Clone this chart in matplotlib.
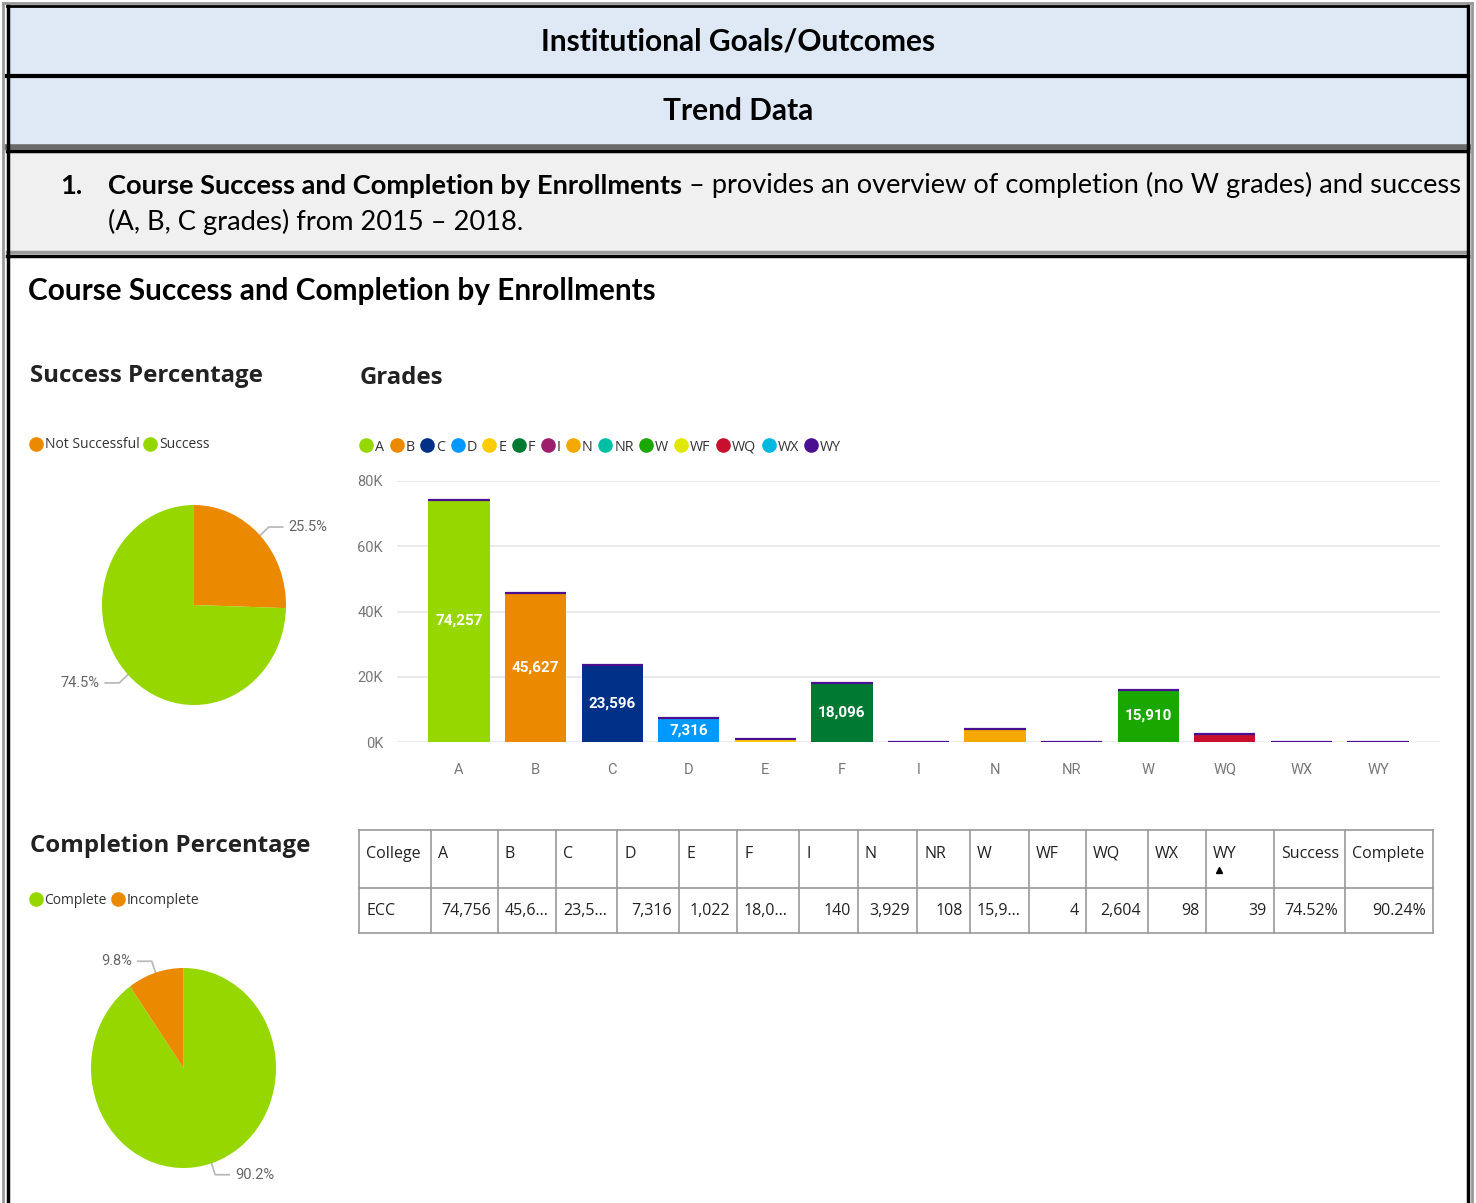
import matplotlib; matplotlib.use("Agg")
import matplotlib.pyplot as plt
from matplotlib.lines import Line2D
from matplotlib.patches import Rectangle
import numpy as np

# ---- data ----
GRADES = ["A", "B", "C", "D", "E", "F", "I", "N", "NR", "W", "WQ", "WX", "WY"]
COUNTS = [74257, 45627, 23596, 7316, 1022, 18096, 140, 3929, 108, 15910, 2604, 98, 39]
LEGEND_GRADES = ["A", "B", "C", "D", "E", "F", "I", "N", "NR", "W", "WF", "WQ", "WX", "WY"]
GRADE_COLORS = {"A": "#97d700", "B": "#eb8900", "C": "#003087", "D": "#0099ff",
                "E": "#ffcc00", "F": "#007a33", "I": "#9c1e6c", "N": "#f5a800",
                "NR": "#00bfa5", "W": "#1aa800", "WF": "#e1e800", "WQ": "#c8102e",
                "WX": "#00b8e0", "WY": "#4b1092"}
Y_TICKS = [0, 20000, 40000, 60000, 80000]

SUCCESS_LABELS = ["Not Successful", "Success"]
SUCCESS_PCT = [25.5, 74.5]
SUCCESS_COLORS = ["#eb8900", "#97d700"]
COMPLETION_LABELS = ["Complete", "Incomplete"]
COMPLETION_PCT = [90.2, 9.8]
COMPLETION_COLORS = ["#97d700", "#eb8900"]

TABLE_HEADER = ["College", "A", "B", "C", "D", "E", "F", "I", "N", "NR", "W",
                "WF", "WQ", "WX", "WY", "Success", "Complete"]
TABLE_ROW = ["ECC", "74,756", "45,6...", "23,5...", "7,316", "1,022", "18,0...", "140",
             "3,929", "108", "15,9...", "4", "2,604", "98", "39", "74.52%", "90.24%"]

W, H = 1476, 1203
TITLE_FONT = "Lato"
UI_FONT = "Open Sans"
NUM_FONT = "Roboto"
LABEL_GRAY = "#666666"

fig = plt.figure(figsize=(W / 100, H / 100), dpi=100)
bg = fig.add_axes([0, 0, 1, 1])
bg.set_xlim(0, W); bg.set_ylim(H, 0); bg.axis("off")


def px_axes(x0, y0, x1, y1):
    return fig.add_axes([x0 / W, 1 - y1 / H, (x1 - x0) / W, (y1 - y0) / H])


# ---- header boxes ----
bg.add_patch(Rectangle((7, 6), 1461, 69, fc="#dee9f5", ec="none"))
bg.add_patch(Rectangle((7, 77), 1461, 68, fc="#dee9f5", ec="none"))
bg.add_patch(Rectangle((7, 152), 1461, 99, fc="#f0f0f0", ec="none"))
bg.plot([3, 1472], [3, 3], color="#999999", lw=2)
bg.plot([7, 1468], [6, 6], color="black", lw=2)
bg.plot([7, 1468], [75.5, 75.5], color="black", lw=3)
bg.plot([7, 1468], [146.5, 146.5], color="#6a6a6a", lw=4)
bg.plot([7, 1468], [150.5, 150.5], color="black", lw=2.5)
bg.plot([7, 1468], [252, 252], color="#9a9a9a", lw=2.5)
bg.plot([7, 1468], [255.5, 255.5], color="black", lw=2.5)
bg.plot([3, 3], [3, H], color="#999999", lw=2)
bg.plot([8, 8], [6, H], color="black", lw=2.5)
bg.plot([1467.5, 1467.5], [6, H], color="black", lw=2.5)
bg.plot([1472, 1472], [3, H], color="#999999", lw=2)

bg.text(738, 42, "Institutional Goals/Outcomes", ha="center", va="center",
        fontsize=21.5, fontweight="bold", family=TITLE_FONT)
bg.text(738, 111, "Trend Data", ha="center", va="center",
        fontsize=21.5, fontweight="bold", family=TITLE_FONT)
bg.text(60, 194, "1.", ha="left", va="baseline", fontsize=19.6, fontweight="bold",
        family=TITLE_FONT)
t_bold = bg.text(108, 194, "Course Success and Completion by Enrollments", ha="left",
                 va="baseline", fontsize=19.6, fontweight="bold", family=TITLE_FONT)
bg.annotate(" \u2013 provides an overview of completion (no W grades) and success",
            xy=(1, 0), xycoords=t_bold, ha="left", va="bottom", fontsize=19.6,
            family=TITLE_FONT)
bg.text(108, 230, "(A, B, C grades) from 2015 \u2013 2018.", ha="left", va="baseline",
        fontsize=19.6, family=TITLE_FONT)
bg.text(28, 291, "Course Success and Completion by Enrollments", ha="left", va="center",
        fontsize=21.4, fontweight="bold", family=TITLE_FONT)

# section titles
bg.text(30, 376, "Success Percentage", ha="left", va="center", fontsize=17.3,
        fontweight="bold", family=UI_FONT, color="#222222")
bg.text(360, 378, "Grades", ha="left", va="center", fontsize=17.3,
        fontweight="bold", family=UI_FONT, color="#222222")
bg.text(30, 846, "Completion Percentage", ha="left", va="center", fontsize=17.3,
        fontweight="bold", family=UI_FONT, color="#222222")


# ---- pies ----
def draw_pie(cx, cy, rx, ry, pcts, colors):
    ax = px_axes(cx - rx, cy - ry, cx + rx, cy + ry)
    wedges, _ = ax.pie(pcts, colors=colors, startangle=90, counterclock=False,
                       wedgeprops=dict(linewidth=0))
    ax.set_aspect("auto"); ax.set_xlim(-1, 1); ax.set_ylim(-1, 1)
    for w, p in zip(wedges, pcts):
        th = np.deg2rad((w.theta1 + w.theta2) / 2)
        c, s = np.cos(th), np.sin(th)
        ex, ey = cx + rx * c, cy - ry * s
        bx, by = cx + (rx + 12) * c, cy - (ry + 12) * s
        sx = 1 if c >= 0 else -1
        hx = bx + 14 * sx
        bg.plot([ex, bx, hx], [ey, by, by], color="#bbbbbb", lw=1.3)
        bg.text(hx + 6 * sx, by, f"{p}%", ha="left" if sx > 0 else "right", va="center",
                fontsize=10.5, color=LABEL_GRAY, family=NUM_FONT)


draw_pie(194, 605, 92, 100, SUCCESS_PCT, SUCCESS_COLORS)
draw_pie(183.5, 1068, 92.5, 100, COMPLETION_PCT, COMPLETION_COLORS)


def dot_legend(labels, colors, x, y, fs=10.5, spacing=0.5):
    handles = [Line2D([], [], marker="o", ls="", ms=9.5, color=c, label=l)
               for l, c in zip(labels, colors)]
    fig.legend(handles=handles, loc="center left", bbox_to_anchor=(x / W, 1 - y / H),
               ncol=len(handles), frameon=False, handlelength=1.0, handletextpad=0.12,
               columnspacing=spacing, borderpad=0, borderaxespad=0,
               prop=dict(family=UI_FONT, size=fs), labelcolor="#333333")


dot_legend(SUCCESS_LABELS, SUCCESS_COLORS, 29, 445, fs=10, spacing=0.3)
dot_legend(COMPLETION_LABELS, COMPLETION_COLORS, 29, 900, fs=10, spacing=0.3)
dot_legend(LEGEND_GRADES, [GRADE_COLORS[g] for g in LEGEND_GRADES], 359, 447,
           fs=10.3, spacing=0.38)

# ---- grades bar chart ----
ax = px_axes(397, 481, 1440, 742)
x = np.arange(len(GRADES))
bars = ax.bar(x, COUNTS, width=0.8, color=[GRADE_COLORS[g] for g in GRADES], zorder=2)
ax.hlines(COUNTS, x - 0.4, x + 0.4, color=GRADE_COLORS["WY"], lw=1.6, zorder=3)
ax.bar_label(bars, labels=[f"{v:,}" if v > 7000 else "" for v in COUNTS],
             label_type="center", color="white", fontweight="bold", fontsize=11,
             family=NUM_FONT)
ax.set_xlim(-0.81, len(GRADES) - 1 + 0.81)
ax.set_ylim(0, 80000)
ax.set_yticks(Y_TICKS, [f"{v // 1000}K" for v in Y_TICKS])
ax.set_xticks(x, GRADES)
ax.grid(axis="y", color="#e6e6e6", lw=1.2, zorder=0)
ax.tick_params(length=0, labelsize=10.5, labelcolor="#777777")
ax.tick_params(axis="x", pad=15)
ax.tick_params(axis="y", pad=10)
for lab in ax.get_xticklabels() + ax.get_yticklabels():
    lab.set_family(NUM_FONT)
for sp in ax.spines.values():
    sp.set_visible(False)

# ---- table ----
COL_EDGES = [359, 431, 498, 556, 617, 679, 737, 799, 858, 917, 970, 1029, 1086,
             1148, 1206, 1274, 1345, 1433]
T_TOP, T_MID, T_BOT = 830, 888, 933
for xe in COL_EDGES:
    bg.plot([xe, xe], [T_TOP, T_BOT], color="#9a9a9a", lw=1.2)
for ye in (T_TOP, T_MID, T_BOT):
    bg.plot([COL_EDGES[0], COL_EDGES[-1]], [ye, ye], color="#9a9a9a", lw=1.2)
for i, (h, v) in enumerate(zip(TABLE_HEADER, TABLE_ROW)):
    x0, x1 = COL_EDGES[i], COL_EDGES[i + 1]
    bg.text(x0 + 7, 854, h, ha="left", va="center", fontsize=11.5, family=UI_FONT,
            color="#222222")
    if i == 0 or v.endswith("..."):
        bg.text(x0 + 7, 911, v, ha="left", va="center", fontsize=11.5, family=UI_FONT,
                color="#222222")
    else:
        bg.text(x1 - 7, 911, v, ha="right", va="center", fontsize=11.5, family=UI_FONT,
                color="#222222")
wy = COL_EDGES[TABLE_HEADER.index("WY")] + 13
bg.plot([wy], [870], marker="^", ms=5, color="black")

fig.savefig("out.png", dpi=100)
